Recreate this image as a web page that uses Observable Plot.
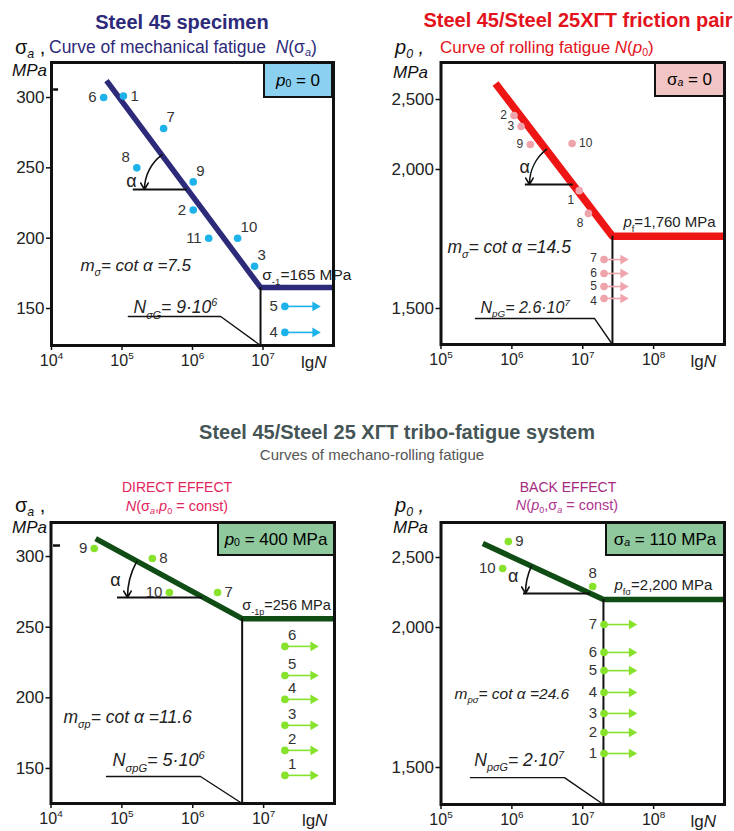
<!DOCTYPE html>
<html><head><meta charset="utf-8">
<script src="https://cdn.jsdelivr.net/npm/d3@7"></script>
<script src="https://cdn.jsdelivr.net/npm/@observablehq/plot@0.6"></script>
<style>
body{margin:0;background:#fff;font-family:'Liberation Sans',Arial,Helvetica,sans-serif}
#wrap{position:relative;width:734px;height:831px;overflow:hidden;background:#fff}
.abs{position:absolute;white-space:nowrap;line-height:1}
.abs sub{font-size:62%;vertical-align:baseline;position:relative;top:0.3em}
.abs sup{font-size:62%;vertical-align:baseline;position:relative;top:-0.5em}
.box{position:absolute;box-sizing:border-box;border:2.5px solid #111;display:flex;align-items:center;justify-content:center;font-size:17px;line-height:1;white-space:nowrap}
.box sub{font-size:62%;vertical-align:baseline;position:relative;top:0.3em}
</style></head>
<body><div id="wrap"></div>
<script>
const FONT = "'Liberation Sans', Arial, Helvetica, sans-serif";

// ---------- Panel A: Steel 45 specimen, mechanical fatigue N(σa) ----------
const aCurveLgN = [4.78, 6.965, 8];
const aCurveSigma = [312, 165, 165];
const aIds = ["6","1","7","8","9","2","11","10","3"];
const aLgN = [4.74, 5.02, 5.59, 5.21, 6.01, 6.01, 6.23, 6.64, 6.88];
const aSigma = [300, 301, 278, 250, 240, 220, 200, 200, 180];
const aSide = ["l","r","ur","ul","ur","l","l","ur","ur"];
const aRunIds = ["5","4"];
const aRunLgN = [7.31, 7.31];
const aRunSigma = [151.5, 133];
const aRunSide = ["l","l"];
const aRunEnd = 7.74;
const aAlphaArc = [5.567, 259.2, 5.319, 234.6];
const aAlphaBase = [5.16, 5.925, 234.6];
const aAlphaLabel = [5.135, 240.3];
const aKnee = [6.965, 165];
const aLeader = [5.09, 6.40, 144.3];
const aStray = [4.03, 4.10, 305.7];
const aTexts = [["m_{σ}= cot α =7.5", 4.41, 180.6, "formula"], ["σ_{-1}=165 MPa", 6.99, 173.5, "limit"], ["N_{σG}= 9·10^{6}", 5.163, 150.5, "ng"]];
const aXTicks = [1e4, 1e5, 1e6, 1e7];
const aYTicks = [150, 200, 250, 300];

// ---------- Panel B: Steel 45/Steel 25ХГТ friction pair, rolling fatigue N(p0) ----------
const bCurveLgN = [5.77, 7.419, 9];
const bCurveP = [2614, 1760, 1760];
const bIds = ["2","3","9","10","1","8"];
const bLgN = [6.03, 6.13, 6.26, 6.85, 6.95, 7.08];
const bP = [2386, 2307, 2179, 2186, 1924, 1842];
const bSide = ["l","l","l","r","dl","dl"];
const bRunIds = ["7","6","5","4"];
const bRunLgN = [7.30, 7.30, 7.30, 7.30];
const bRunP = [1676, 1626, 1579, 1536];
const bRunSide = ["lu","l","l","ld"];
const bRunEnd = 7.57;
const bAlphaArc = [6.488, 2143, 6.248, 1946];
const bAlphaBase = [6.19, 6.865, 1946];
const bAlphaLabel = [6.18, 2014];
const bKnee = [7.419, 1760];
const bLeader = [5.487, 7.165, 1464];
const bTexts = [["m_{σ}= cot α =14.5", 5.09, 1719, "formula"], ["*{p}_{f}=1,760 MPa", 7.574, 1809, "limit"], ["N_{pG}= 2.6·10^{7}", 5.557, 1504, "ng"]];
const bXTicks = [1e5, 1e6, 1e7, 1e8];
const bYTicks = [1500, 2000, 2500];

// ---------- Panel C: direct effect N(σa, p0 = const) ----------
const cCurveLgN = [4.63, 6.697, 8];
const cCurveSigma = [312.7, 256, 256];
const cIds = ["9","8","10","7"];
const cLgN = [4.61, 5.43, 5.67, 6.35];
const cSigma = [305.7, 298.6, 274.5, 274.5];
const cSide = ["l","r","l","r"];
const cRunIds = ["6","5","4","3","2","1"];
const cRunLgN = [7.30, 7.30, 7.30, 7.30, 7.30, 7.30];
const cRunSigma = [236.4, 215.8, 198.9, 180.5, 162.8, 145.1];
const cRunSide = ["ur","ur","ur","ur","ur","ur"];
const cRunEnd = 7.70;
const cAlphaArc = [5.21, 296.6, 5.079, 271];
const cAlphaBase = [4.938, 6.137, 271];
const cAlphaLabel = [4.91, 283];
const cKnee = [6.697, 256];
const cLeader = [4.783, 6.109, 144.3];
const cStray = [4.035, 4.134, 307.8];
const cTexts = [["m_{σp}= cot α =11.6", 4.176, 186, "formula"], ["σ_{-1p}=256 MPa", 6.70, 265.3, "limit"], ["N_{σpG}= 5·10^{6}", 4.867, 155.6, "ng"]];

// ---------- Panel D: back effect N(p0, σa = const) ----------
const dCurveLgN = [5.59, 7.292, 9];
const dCurveP = [2600, 2200, 2200];
const dIds = ["9","10","8"];
const dLgN = [5.95, 5.87, 7.14];
const dP = [2614, 2421, 2293];
const dSide = ["r","l","u"];
const dRunIds = ["7","6","5","4","3","2","1"];
const dRunLgN = [7.30, 7.30, 7.30, 7.30, 7.30, 7.30, 7.30];
const dRunP = [2021, 1911, 1846, 1768, 1693, 1625, 1550];
const dRunSide = ["l","l","l","l","l","l","l"];
const dRunEnd = 7.69;
const dAlphaArc = [6.276, 2438, 6.192, 2243];
const dAlphaBase = [6.164, 7.109, 2243];
const dAlphaLabel = [6.02, 2364];
const dKnee = [7.292, 2200];
const dLeader = [5.416, 6.742, 1464];
const dTexts = [["m_{pσ}= cot α =24.6", 5.19, 1764, "formula"], ["*{p}_{fσ}=2,200 MPa", 7.447, 2300, "limit"], ["N_{pσG}= 2·10^{7}", 5.47, 1525, "ng"]];

// ---------- helpers ----------
const NS = "http://www.w3.org/2000/svg";
function richify(root) {
  for (const t of root.querySelectorAll("text")) {
    const s = t.textContent;
    if (!/[_^*]\{/.test(s)) continue;
    const fs = parseFloat(getComputedStyle(t).fontSize) || 14;
    t.textContent = "";
    let shift = 0;
    const add = (txt, kind) => {
      if (!txt) return;
      const ts = document.createElementNS(NS, "tspan");
      ts.textContent = txt;
      let target = 0;
      if (kind === "_") { target = 0.3 * fs; ts.setAttribute("font-size", (0.62 * fs) + "px"); }
      if (kind === "^") { target = -0.42 * fs; ts.setAttribute("font-size", (0.62 * fs) + "px"); }
      if (kind === "*") ts.setAttribute("font-style", "italic");
      const d = target - shift;
      if (d) ts.setAttribute("dy", d);
      shift = target;
      t.appendChild(ts);
    };
    const re = /([_^*])\{([^}]*)\}/g;
    let last = 0, m;
    while ((m = re.exec(s))) { add(s.slice(last, m.index), ""); add(m[2], m[1]); last = re.lastIndex; }
    add(s.slice(last), "");
  }
}

const SIDES = {
  l: {dx: -7, dy: 0, textAnchor: "end"},
  lu: {dx: -7, dy: -1.5, textAnchor: "end"},
  ld: {dx: -7, dy: 2.5, textAnchor: "end"},
  r: {dx: 7, dy: 0, textAnchor: "start"},
  ur: {dx: 3, dy: -11, textAnchor: "start"},
  ul: {dx: -7, dy: -11, textAnchor: "end"},
  u: {dx: 0, dy: -13, textAnchor: "middle"},
  dl: {dx: -5, dy: 10, textAnchor: "end"}
};

function buildPanel(c) {
  const N = v => 10 ** v;
  const curve = c.curveLgN.map((l, i) => ({x: N(l), y: c.curveV[i]}));
  const pts = c.ids.map((id, i) => ({id, x: N(c.lgN[i]), y: c.v[i], side: c.side[i]}));
  const runs = c.runIds.map((id, i) => ({id, x: N(c.runLgN[i]), y: c.runV[i], xe: N(c.runEnd), side: c.runSide[i]}));
  const all = [...pts, ...runs];
  const ymin = c.ymin;
  const style = {
    formula: {fontStyle: "italic", fontSize: c.fsFormula},
    limit: {fontSize: c.fsLimit},
    ng: {fontStyle: "italic", fontSize: c.fsNg}
  };
  const labelMarks = Object.entries(SIDES).map(([k, o]) =>
    Plot.text(all.filter(d => d.side === k), {x: "x", y: "y", text: "id", ...o, fontSize: c.fsLabel, fill: "#333"}));
  const texts = c.texts.map(([t, l, v, k]) =>
    Plot.text([{t, x: N(l), y: v}], {x: "x", y: "y", text: "t", textAnchor: "start", fill: "#222", ...style[k]}));
  const marks = [
    Plot.line(curve, {x: "x", y: "y", stroke: c.color, strokeWidth: c.lw, strokeLinecap: "butt"}),
    Plot.ruleX([c.knee], {x: d => N(d[0]), y1: d => d[1], y2: ymin, stroke: "#111", strokeWidth: 2}),
    Plot.line([[c.leader[0], c.leader[2]], [c.leader[1], c.leader[2]], [c.knee[0], ymin]],
      {x: d => N(d[0]), y: d => d[1], stroke: "#111", strokeWidth: 1.4}),
    Plot.ruleY([c.alphaBase], {x1: d => N(d[0]), x2: d => N(d[1]), y: d => d[2], stroke: "#111", strokeWidth: 2}),
    Plot.arrow([c.alphaArc], {x1: d => N(d[0]), y1: d => d[1], x2: d => N(d[2]), y2: d => d[3],
      bend: c.bend, stroke: "#111", strokeWidth: 1.6, headLength: 7}),
    Plot.text([c.alphaLabel], {x: d => N(d[0]), y: d => d[1], text: () => "α", fontSize: 18, fill: "#222"}),
    Plot.link(runs, {x1: "x", x2: "xe", y1: "y", y2: "y", stroke: c.dot, strokeWidth: 1.6}),
    Plot.dot(runs, {x: "xe", y: "y", symbol: "triangle", rotate: 90, r: 3.6, fill: c.dot}),
    Plot.dot(all, {x: "x", y: "y", r: 3.8, fill: c.dot}),
    ...labelMarks,
    ...texts
  ];
  if (c.stray) marks.push(Plot.ruleY([c.stray], {x1: d => N(d[0]), x2: d => N(d[1]), y: d => d[2], stroke: "#111", strokeWidth: 2.5}));
  marks.push(
    Plot.axisX(c.xTicks, {tickFormat: d => `10^{${Math.round(Math.log10(d))}}`, tickSize: 5, tickPadding: 4, fontSize: 16, fill: "#222", strokeWidth: 1.5, label: null}),
    Plot.axisY(c.yTicks, {tickFormat: c.yFormat, tickSize: 5, tickPadding: 2, fontSize: 17, fill: "#222", strokeWidth: 1.5, label: null}),
    Plot.text([c.lgLabel], {x: d => N(d), frameAnchor: "bottom", lineAnchor: "middle", dy: 17, text: () => "lg*{N}", fontSize: 17, fill: "#222"}),
    Plot.frame({stroke: "#111", strokeWidth: 3})
  );
  return Plot.plot({
    width: 367, height: c.height,
    marginLeft: c.ml, marginRight: c.mr, marginTop: c.mt, marginBottom: c.mb,
    style: {fontFamily: FONT, fontSize: "15px", background: "transparent", overflow: "visible", color: "#111"},
    x: {type: "log", domain: c.xDomain},
    y: c.yScale,
    marks
  });
}

const wrap = document.getElementById("wrap");
function place(svg, left, top) {
  svg.style.position = "absolute"; svg.style.left = left + "px"; svg.style.top = top + "px";
  svg.style.maxWidth = "none";
  wrap.appendChild(svg); richify(svg);
}
function label(html, x, y, css, anchor) {
  const d = document.createElement("div");
  d.className = "abs"; d.innerHTML = html; d.style.cssText += css;
  d.style.left = x + "px"; d.style.top = y + "px";
  d.style.transform = anchor === "center" ? "translate(-50%,-50%)" : "translate(0,-50%)";
  wrap.appendChild(d);
}
function box(html, x1, y1, x2, y2, fill) {
  const d = document.createElement("div");
  d.className = "box"; d.innerHTML = html;
  d.style.left = x1 + "px"; d.style.top = y1 + "px"; d.style.width = (x2 - x1) + "px"; d.style.height = (y2 - y1) + "px";
  d.style.background = fill;
  wrap.appendChild(d);
}

const fmtComma = d3.format(",");

place(buildPanel({
  curveLgN: aCurveLgN, curveV: aCurveSigma, ids: aIds, lgN: aLgN, v: aSigma, side: aSide,
  runIds: aRunIds, runLgN: aRunLgN, runV: aRunSigma, runEnd: aRunEnd, runSide: aRunSide,
  alphaArc: aAlphaArc, alphaBase: aAlphaBase, alphaLabel: aAlphaLabel, bend: -27,
  knee: aKnee, leader: aLeader, stray: aStray, texts: aTexts, lgLabel: 7.72,
  color: "#2d2a7a", lw: 5.5, dot: "#1db2ea",
  fsFormula: 17, fsLimit: 15.5, fsNg: 17.5, fsLabel: 15,
  xDomain: [1e4, 1e8], xTicks: aXTicks, yTicks: aYTicks, yFormat: d => d,
  yScale: {domain: [123.7, 324.9]}, ymin: 123.7,
  height: 375, ml: 51, mr: 34, mt: 62, mb: 30
}), 0, 0);

place(buildPanel({
  curveLgN: bCurveLgN, curveV: bCurveP, ids: bIds, lgN: bLgN, v: bP, side: bSide,
  runIds: bRunIds, runLgN: bRunLgN, runV: bRunP, runEnd: bRunEnd, runSide: bRunSide,
  alphaArc: bAlphaArc, alphaBase: bAlphaBase, alphaLabel: bAlphaLabel, bend: -26,
  knee: bKnee, leader: bLeader, stray: null, texts: bTexts, lgLabel: 8.70,
  color: "#ee1515", lw: 7.5, dot: "#efa3ab",
  fsFormula: 17.5, fsLimit: 15, fsNg: 16, fsLabel: 12,
  xDomain: [1e5, 1e9], xTicks: bXTicks, yTicks: bYTicks, yFormat: fmtComma,
  yScale: {type: "linear", domain: [1370, 1500, 2000, 2500, 2764], range: [344, 308, 169, 99, 62]}, ymin: 1370,
  height: 375, ml: 73.5, mr: 10, mt: 62, mb: 31
}), 367, 0);

place(buildPanel({
  curveLgN: cCurveLgN, curveV: cCurveSigma, ids: cIds, lgN: cLgN, v: cSigma, side: cSide,
  runIds: cRunIds, runLgN: cRunLgN, runV: cRunSigma, runEnd: cRunEnd, runSide: cRunSide,
  alphaArc: cAlphaArc, alphaBase: cAlphaBase, alphaLabel: cAlphaLabel, bend: -14.5,
  knee: cKnee, leader: cLeader, stray: cStray, texts: cTexts, lgLabel: 7.72,
  color: "#0f4d14", lw: 5.5, dot: "#86e22a",
  fsFormula: 17.5, fsLimit: 14.5, fsNg: 18, fsLabel: 15,
  xDomain: [1e4, 1e8], xTicks: aXTicks, yTicks: aYTicks, yFormat: d => d,
  yScale: {domain: [125.2, 324.1]}, ymin: 125.2,
  height: 371, ml: 50.5, mr: 33, mt: 62, mb: 28
}), 0, 460);

place(buildPanel({
  curveLgN: dCurveLgN, curveV: dCurveP, ids: dIds, lgN: dLgN, v: dP, side: dSide,
  runIds: dRunIds, runLgN: dRunLgN, runV: dRunP, runEnd: dRunEnd, runSide: dRunSide,
  alphaArc: dAlphaArc, alphaBase: dAlphaBase, alphaLabel: dAlphaLabel, bend: -12.5,
  knee: dKnee, leader: dLeader, stray: null, texts: dTexts, lgLabel: 8.70,
  color: "#0f4d14", lw: 5.5, dot: "#86e22a",
  fsFormula: 15.5, fsLimit: 15, fsNg: 17.5, fsLabel: 15,
  xDomain: [1e5, 1e9], xTicks: bXTicks, yTicks: bYTicks, yFormat: fmtComma,
  yScale: {type: "linear", domain: [1368, 1500, 2000, 2500, 2750], range: [344, 307, 167, 97, 62]}, ymin: 1368,
  height: 371, ml: 73.5, mr: 10, mt: 62, mb: 27
}), 367, 460);

// ---------- titles, axis names, condition boxes ----------
label("Steel 45 specimen", 182, 22, "font-weight:bold;font-size:20px;color:#2d2a7a", "center");
label("σ<sub><i>a</i></sub> ,", 15, 47, "font-size:20px;color:#111", "left");
label("Curve of mechanical fatigue&nbsp; <i>N</i>(σ<sub><i>a</i></sub>)", 49, 48, "font-size:17.5px;color:#2d2a7a", "left");
label("<i>MPa</i>", 12, 70, "font-size:17px;color:#111", "left");

label("Steel 45/Steel 25ХГТ friction pair", 578, 20, "font-weight:bold;font-size:20px;color:#e3121b", "center");
label("<i>p</i><sub>0</sub> ,", 395, 47, "font-size:20px;color:#111;font-style:italic", "left");
label("Curve of rolling fatigue <i>N</i>(<i>p</i><sub>0</sub>)", 440, 47, "font-size:17px;color:#e3121b", "left");
label("<i>MPa</i>", 393, 72, "font-size:17px;color:#111", "left");

label("Steel 45/Steel 25 ХГТ tribo-fatigue system", 397, 432, "font-weight:bold;font-size:20px;color:#455555", "center");
label("Curves of mechano-rolling fatigue", 372, 454, "font-size:15px;color:#555", "center");

label("DIRECT EFFECT", 177, 487, "font-size:14px;color:#e2245c", "center");
label("<i>N</i>(σ<sub><i>a</i></sub>,<i>p</i><sub>0</sub> = const)", 177, 506, "font-size:14.5px;color:#e2245c", "center");
label("σ<sub><i>a</i></sub> ,", 15, 505, "font-size:20px;color:#111", "left");
label("<i>MPa</i>", 12, 527, "font-size:17px;color:#111", "left");

label("BACK EFFECT", 568, 487, "font-size:14px;color:#a3287e", "center");
label("<i>N</i>(<i>p</i><sub>0</sub>,σ<sub><i>a</i></sub> = const)", 567, 505, "font-size:14.5px;color:#b0358f", "center");
label("<i>p</i><sub>0</sub> ,", 395, 505, "font-size:20px;color:#111;font-style:italic", "left");
label("<i>MPa</i>", 393, 527, "font-size:17px;color:#111", "left");

box("<i>p</i><sub>0</sub>&nbsp;= 0", 263, 62, 333, 98, "#8bd1ef");
box("σ<sub><i>a</i></sub>&nbsp;= 0", 654, 62, 725, 97, "#f2c5c5");
box("<i>p</i><sub>0</sub>&nbsp;= 400 MPa", 217, 522, 335, 556, "#8ec89c");
box("σ<sub><i>a</i></sub>&nbsp;= 110 MPa", 605, 522, 725, 556, "#8ec89c");
</script>
</body></html>
